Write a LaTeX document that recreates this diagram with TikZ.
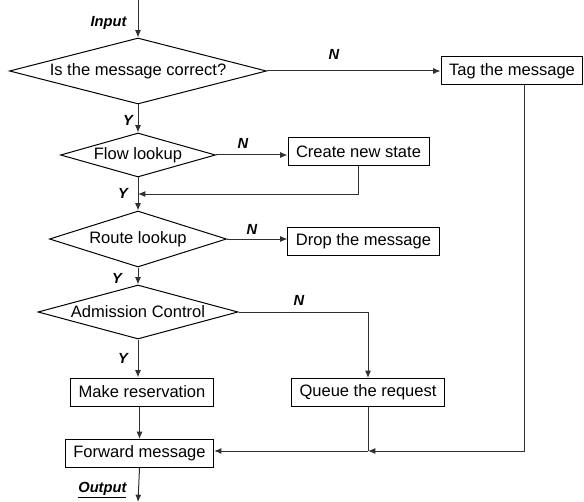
\documentclass[tikz,border=0pt]{standalone}
\usepackage{fontspec}
\setmainfont{Liberation Sans}
\usetikzlibrary{positioning,calc,shapes.geometric,arrows.meta}
\definecolor{flowLine}{HTML}{303030}

\tikzset{
  decision/.style={draw=black, diamond, inner sep=0pt, line width=0.75pt,
    font=\fontsize{12.4}{14}\selectfont},
  action/.style={draw=black, rectangle, inner xsep=6pt, inner ysep=0pt,
    minimum height=21pt, line width=0.75pt,
    font=\fontsize{12.4}{14}\selectfont},
  flowarr/.style={draw=flowLine, line width=0.75pt,
    -{Latex[length=5.5pt,width=4.5pt]}},
  flowseg/.style={draw=flowLine, line width=0.75pt},
  tag/.style={font=\fontsize{11}{13}\selectfont\bfseries\itshape, inner sep=1pt}
}

\begin{document}
\begin{tikzpicture}[x=0.75pt, y=-0.75pt]

\useasboundingbox (0,0) rectangle (584,502);

% --- DECISIONS on the main axis ---
\node[decision, aspect=3.9, minimum width=192.75pt, minimum height=49.5pt]
  (check) at (138,71) {Is the message correct?};
\node[decision, aspect=3.5, minimum width=116.25pt, minimum height=33pt]
  (flow) at (138,155) {Flow lookup};
\node[decision, aspect=3.16, minimum width=132.75pt, minimum height=42pt]
  (route) at (138,239) {Route lookup};
\node[decision, aspect=3.7, minimum width=150pt, minimum height=40.5pt]
  (admit) at (138,312) {Admission Control};

% --- ACTIONS ---
\node[action] (tagmsg) at (512,71) {Tag the message};
\node[action] (create) at (358.5,152) {Create new state};
\node[action] (drop) at (363.5,241.5) {Drop the message};
\node[action] (reserve) at (142,392) {Make reservation};
\node[action] (queue) at (368,392.5) {Queue the request};
\node[action] (forward) at (139.5,453.5) {Forward message};

% --- FREE ENDS AND JOINS ---
\coordinate (input) at (138,0);
\coordinate (output) at (138,502);
\coordinate (rejoin) at (138,194);
\coordinate (tagturn) at (524,451);
\coordinate (merge) at (368,451);

% --- MAIN PATH (Y) ---
\draw[flowarr] (input) -- (check.north);
\draw[flowarr] (check.south) -- (flow.north);
\draw[flowarr] (flow.south) -- (route.north);
\draw[flowarr] (route.south) -- (admit.north);
\draw[flowarr] (admit.south) -- (admit.south |- reserve.north);
\draw[flowarr] (reserve.south -| forward.north) -- (forward.north);
\draw[flowarr] (forward.south) -- (output);

% --- SIDE PATHS (N) ---
\draw[flowarr] (check.east) -- (check.east -| tagmsg.west);
\draw[flowarr] (flow.east) -- (flow.east -| create.west);
\draw[flowarr] (create.south) |- (rejoin);
\draw[flowarr] (route.east) -- (route.east -| drop.west);
\draw[flowarr] (admit.east) -| (queue.north);
\draw[flowseg] (queue.south) -- (merge);
\draw[flowarr] (tagmsg.south -| tagturn) -- (tagturn) -- (merge);
\draw[flowarr] (merge) -- (merge -| forward.east);

% --- BRANCH LABELS ---
\node[tag, anchor=east] (lblin) at (128,23) {Input};
\node[tag, anchor=east] (lblout) at (128,490) {\underline{Output}};
\node[tag] (n1) at (334,54) {N};
\node[tag] (n2) at (243,143) {N};
\node[tag] (n3) at (252,229) {N};
\node[tag] (n4) at (299,300) {N};
\node[tag] (y1) at (128,120) {Y};
\node[tag] (y2) at (123,193) {Y};
\node[tag] (y3) at (117,278) {Y};
\node[tag] (y4) at (123,358) {Y};

\end{tikzpicture}
\end{document}
